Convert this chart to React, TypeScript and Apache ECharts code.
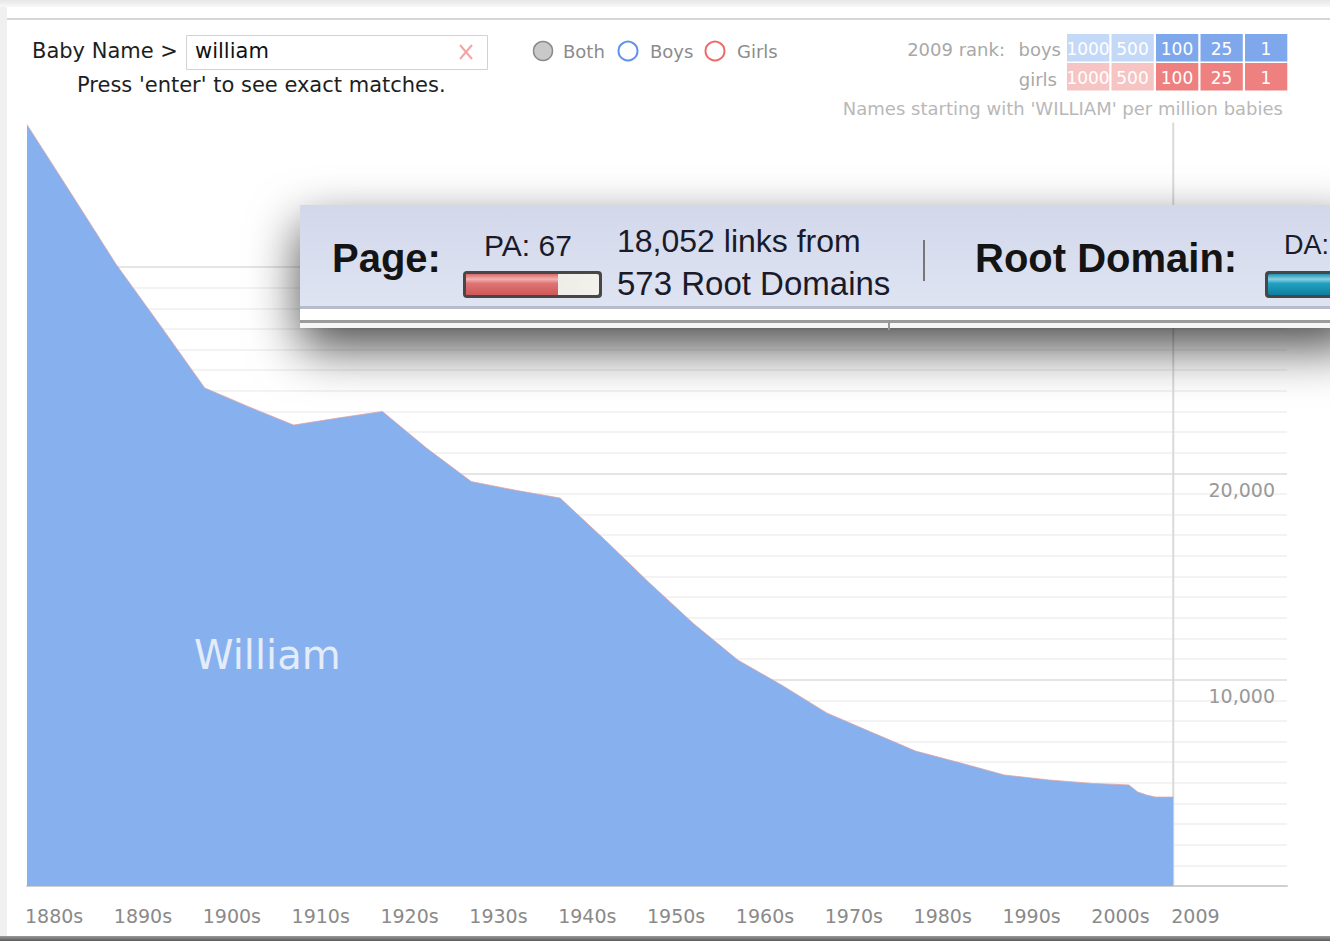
import React, { useEffect, useRef } from 'react';
import * as echarts from 'echarts';

// Names starting with 'WILLIAM' per million babies
const YEARS = [1880, 1885, 1890, 1895, 1900, 1905, 1910, 1915, 1920, 1925, 1930, 1935, 1940, 1945, 1950, 1955, 1960, 1965, 1970, 1975, 1980, 1985, 1990, 1995, 2000, 2004, 2005, 2006, 2007, 2008, 2009];
const PER_MILLION = [36900, 33540, 30150, 27170, 24140, 23220, 22340, 22680, 23000, 21210, 19600, 19180, 18800, 16790, 14710, 12720, 10950, 9720, 8390, 7460, 6540, 5970, 5380, 5140, 4970, 4900, 4560, 4410, 4310, 4310, 4310];

const DECADE_TICKS = [1880, 1890, 1900, 1910, 1920, 1930, 1940, 1950, 1960, 1970, 1980, 1990, 2000];
const LAST_YEAR = 2009;
const X_MIN = 1880;
const X_MAX = 2021.8;
const Y_MAX = 30000;
const Y_LABEL_VALUES = [10000, 20000];
const GUIDE_TOP = 37000;
const NAME_LABEL = 'William';
const RANK_LABELS = ['1000', '500', '100', '25', '1'];
const RANK_LIGHT = [true, true, false, false, false];

const FONT = '"DejaVu Sans", Verdana, sans-serif';
const OV_FONT = '"Liberation Sans", Arial, sans-serif';

export default function App() {
  const ref = useRef<HTMLDivElement>(null);
  useEffect(() => {
    const chart = echarts.init(ref.current!, null, { renderer: 'svg' });
    const data = YEARS.map((y, i) => [y, PER_MILLION[i]]);

    const t = (text: string, x: number, y: number, font: string, fill: string, align = 'left', z = 10) => ({
      type: 'text', z, x, y,
      style: { text, font, fill, textAlign: align, textVerticalAlign: 'middle' },
    });

    const rankBoxes: any[] = [];
    const boxX = [1067, 1111.5, 1156, 1200.5, 1245];
    RANK_LABELS.forEach((lab, i) => {
      const light = RANK_LIGHT[i];
      rankBoxes.push({ type: 'rect', z: 10, shape: { x: boxX[i], y: 34, width: 42.3, height: 27.5 }, style: { fill: light ? '#c4d8f7' : '#7fa8ec' } });
      rankBoxes.push({ type: 'rect', z: 10, shape: { x: boxX[i], y: 63, width: 42.3, height: 27.5 }, style: { fill: light ? '#f7c4c4' : '#ee8080' } });
      rankBoxes.push(t(lab, boxX[i] + 21, 48.5, `17px ${FONT}`, '#ffffff', 'center', 11));
      rankBoxes.push(t(lab, boxX[i] + 21, 77.5, `17px ${FONT}`, '#ffffff', 'center', 11));
    });

    const overlay: any[] = [
      { type: 'rect', z: 100, shape: { x: 300, y: 205, width: 1060, height: 123 }, style: { fill: '#f8f8f8', shadowBlur: 50, shadowColor: 'rgba(0,0,0,0.7)', shadowOffsetY: 20 } },
      { type: 'rect', z: 101, shape: { x: 300, y: 205, width: 1060, height: 101 }, style: { fill: new echarts.graphic.LinearGradient(0, 0, 0, 1, [{ offset: 0, color: '#d2d8ea' }, { offset: 1, color: '#dfe4f3' }]) } },
      { type: 'rect', z: 101, shape: { x: 300, y: 306, width: 1060, height: 3 }, style: { fill: '#b6bccc' } },
      { type: 'rect', z: 101, shape: { x: 300, y: 309, width: 1060, height: 11 }, style: { fill: '#ffffff' } },
      { type: 'rect', z: 101, shape: { x: 300, y: 320, width: 1060, height: 3 }, style: { fill: '#9b9b9b' } },
      { type: 'rect', z: 101, shape: { x: 300, y: 323, width: 1060, height: 5 }, style: { fill: '#f6f6f6' } },
      { type: 'line', z: 102, shape: { x1: 889, y1: 320, x2: 889, y2: 330 }, style: { stroke: '#999', lineWidth: 2 } },
      t('Page:', 332, 258, `bold 40px ${OV_FONT}`, '#141414', 'left', 103),
      t('PA: 67', 484, 245, `30px ${OV_FONT}`, '#1a1a2a', 'left', 103),
      // red PA bar
      { type: 'rect', z: 102, shape: { x: 463, y: 271, width: 139, height: 27, r: 4 }, style: { fill: '#474747' } },
      { type: 'rect', z: 103, shape: { x: 466, y: 274, width: 133, height: 21, r: 2 }, style: { fill: new echarts.graphic.LinearGradient(0, 0, 1, 0, [{ offset: 0, color: '#b9b6ae' }, { offset: 0.2, color: '#e9e7e1' }, { offset: 1, color: '#f2f1ec' }]) } },
      { type: 'rect', z: 104, shape: { x: 466, y: 274, width: 92, height: 21 }, style: { fill: new echarts.graphic.LinearGradient(0, 0, 0, 1, [{ offset: 0, color: '#d86a6a' }, { offset: 0.25, color: '#f2b0b0' }, { offset: 0.45, color: '#de7474' }, { offset: 1, color: '#cf5858' }]) } },
      t('18,052 links from', 617, 241, `32px ${OV_FONT}`, '#1a1a2a', 'left', 103),
      t('573 Root Domains', 617, 283, `33px ${OV_FONT}`, '#1a1a2a', 'left', 103),
      { type: 'line', z: 103, shape: { x1: 924, y1: 240, x2: 924, y2: 281 }, style: { stroke: '#777', lineWidth: 2 } },
      t('Root Domain:', 975, 258, `bold 40px ${OV_FONT}`, '#141414', 'left', 103),
      t('DA:', 1284, 245, `27px ${OV_FONT}`, '#1a1a2a', 'left', 103),
      { type: 'rect', z: 102, shape: { x: 1265, y: 271, width: 90, height: 27, r: 4 }, style: { fill: '#474747' } },
      { type: 'rect', z: 103, shape: { x: 1268, y: 274, width: 85, height: 21, r: 2 }, style: { fill: new echarts.graphic.LinearGradient(0, 0, 0, 1, [{ offset: 0, color: '#1f94b5' }, { offset: 0.25, color: '#8ad0e3' }, { offset: 0.45, color: '#22a0c2' }, { offset: 1, color: '#0d7f9f' }]) } },
    ];

    const option: any = {
      animation: false,
      backgroundColor: '#ffffff',
      textStyle: { fontFamily: FONT },
      grid: { left: 27, right: 43, top: 267, bottom: 55, containLabel: false },
      xAxis: {
        type: 'value', min: X_MIN, max: X_MAX,
        axisLine: { show: true, lineStyle: { color: '#d0d0d0', width: 2 } },
        axisTick: { show: false },
        splitLine: { show: false },
        axisLabel: {
          customValues: [...DECADE_TICKS, LAST_YEAR],
          formatter: (v: number) => (v === LAST_YEAR ? String(v) : `${v}s`),
          align: 'left', margin: 20, color: '#8a8a8a', fontSize: 19, fontFamily: FONT,
          padding: [0, 0, 0, -2],
        },
      },
      yAxis: {
        type: 'value', position: 'right', min: 0, max: Y_MAX, interval: 10000,
        axisLine: { show: false }, axisTick: { show: false },
        splitLine: { show: true, lineStyle: { color: '#dcdcdc', width: 1.5 } },
        minorTick: { show: false, splitNumber: 10 },
        minorSplitLine: { show: true, lineStyle: { color: '#efefef', width: 1.5 } },
        axisLabel: {
          inside: true, customValues: Y_LABEL_VALUES,
          formatter: (v: number) => v.toLocaleString('en-US'),
          align: 'right', verticalAlign: 'top', padding: [7, 0, 0, 0], margin: 12,
          color: '#999999', fontSize: 19, fontFamily: FONT,
        },
      },
      series: [
        {
          type: 'line', data, clip: false, symbol: 'none', silent: true, z: 3,
          lineStyle: { color: 'rgba(226,160,160,0.75)', width: 1 },
          areaStyle: { color: '#87b1ee', opacity: 1 },
        },
        {
          type: 'line', data: [[LAST_YEAR, 0], [LAST_YEAR, GUIDE_TOP]], clip: false, symbol: 'none', silent: true, z: 2,
          lineStyle: { color: '#dadada', width: 2 },
        },
      ],
      graphic: [
        { type: 'rect', z: 5, shape: { x: 0, y: 0, width: 7, height: 941 }, style: { fill: '#f0f0f0' } },
        { type: 'rect', z: 5, shape: { x: 0, y: 0, width: 1330, height: 7 }, style: { fill: new echarts.graphic.LinearGradient(0, 0, 0, 1, [{ offset: 0, color: '#e6e6e6' }, { offset: 1, color: '#f8f8f8' }]) } },
        { type: 'line', z: 5, shape: { x1: 7, y1: 19, x2: 1330, y2: 19 }, style: { stroke: '#d6d6d6', lineWidth: 2 } },
        { type: 'rect', z: 5, shape: { x: 0, y: 936, width: 1330, height: 5 }, style: { fill: new echarts.graphic.LinearGradient(0, 0, 0, 1, [{ offset: 0, color: '#9a9a9a' }, { offset: 1, color: '#5a5a5a' }]) } },
        t('Baby Name >', 32, 51, `21px ${FONT}`, '#1e1e1e'),
        { type: 'rect', z: 10, shape: { x: 186.5, y: 35.5, width: 301, height: 34 }, style: { fill: '#ffffff', stroke: '#d2d2d2', lineWidth: 1 } },
        t('william', 195, 51, `21px ${FONT}`, '#111111', 'left', 11),
        { type: 'line', z: 11, shape: { x1: 460, y1: 45, x2: 472, y2: 59 }, style: { stroke: '#f5a3a3', lineWidth: 2 } },
        { type: 'line', z: 11, shape: { x1: 472, y1: 45, x2: 460, y2: 59 }, style: { stroke: '#f5a3a3', lineWidth: 2 } },
        t("Press 'enter' to see exact matches.", 77, 85, `21px ${FONT}`, '#1e1e1e'),
        { type: 'circle', z: 10, shape: { cx: 543, cy: 51, r: 9.5 }, style: { fill: '#c9c9c9', stroke: '#8a8a8a', lineWidth: 1.5 } },
        t('Both', 563, 51, `18px ${FONT}`, '#8c8c8c'),
        { type: 'circle', z: 10, shape: { cx: 628, cy: 51, r: 9.5 }, style: { fill: '#ffffff', stroke: '#5e90ee', lineWidth: 2 } },
        t('Boys', 650, 51, `18px ${FONT}`, '#8c8c8c'),
        { type: 'circle', z: 10, shape: { cx: 715, cy: 51, r: 9.5 }, style: { fill: '#ffffff', stroke: '#ee6a6a', lineWidth: 2 } },
        t('Girls', 737, 51, `18px ${FONT}`, '#8c8c8c'),
        t('2009 rank:', 1005, 49, `18px ${FONT}`, '#a8a8a8', 'right'),
        t('boys', 1061, 49, `18px ${FONT}`, '#a8a8a8', 'right'),
        t('girls', 1057, 79, `18px ${FONT}`, '#a8a8a8', 'right'),
        ...rankBoxes,
        t("Names starting with 'WILLIAM' per million babies", 1283, 108, `18px ${FONT}`, '#b8b8b8', 'right'),
        t(NAME_LABEL, 194, 655, `40px ${FONT}`, '#e4ecfa', 'left', 20),
        ...overlay,
      ],
    };
    chart.setOption(option);
    return () => chart.dispose();
  }, []);
  return <div ref={ref} style={{ position: 'fixed', left: 0, top: 0, width: 1330, height: 941 }} />;
}
